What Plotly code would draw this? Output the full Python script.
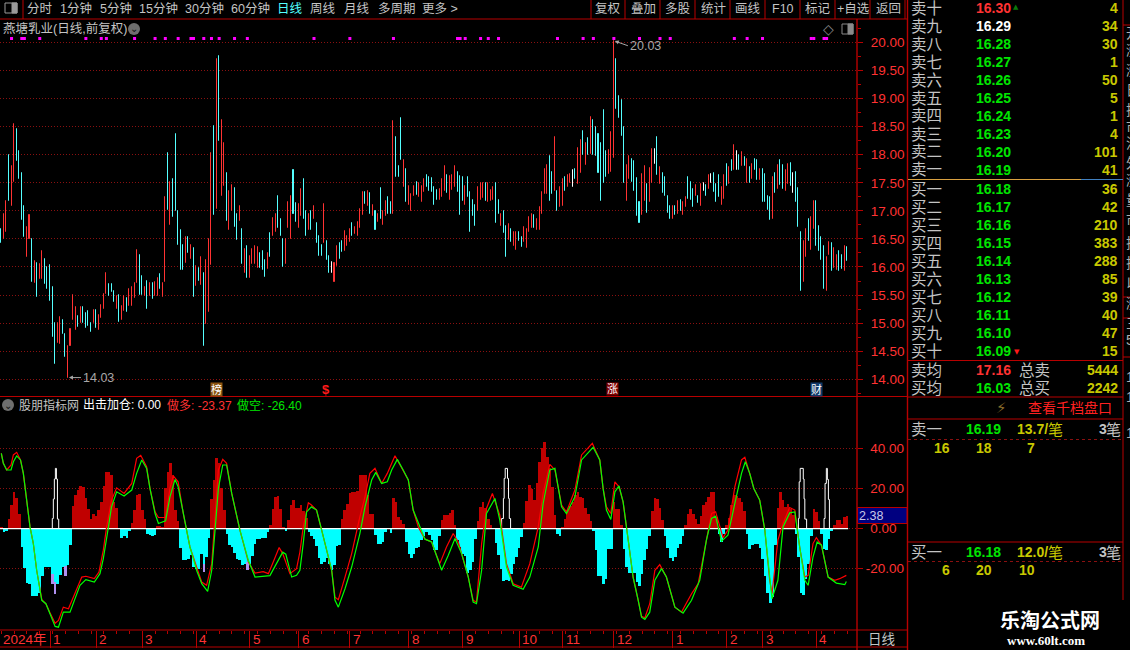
import plotly.graph_objects as go

W = 1130
H = 650
RED_TXT = '#ff3232'
BORDER = '#b80000'
GRID = '#8a1010'
GREY = '#c4c4c4'
GREEN = '#00e600'
YELLOW = '#c8c800'
CYAN = '#54ffff'
FONT = 'Liberation Sans, Noto Sans CJK SC'

# daily price bars, one entry per bar. c = down, r = up, w = flat
candle_dir = list(
    'crrcrrcccc' 'rrcrcrrccc' 'ccrrccrrrr' 'crccccrcrr' 'rrcccrcrrc'
    'rrrrccrcrc' 'rrcrrcrccc' 'ccrcrcrcrc' 'rrrcrcrrcr' 'rccrcrcrrr'
    'rcccrcrrcc' 'crrrccrrcc' 'rcrcccrccw' 'rrccrrrcrr' 'rrcrcrcrcr'
    'rccrcccrcr' 'rrcrrrc' 'c'
    'cccrrrcrrr' 'cccrccccrr' 'rcrrrccrcc' 'rcrrccrrrr' 'crrrrrccrc'
    'rrcrrwcrrc' 'rcrccccccr' 'rrccccrrcc' 'ccrrcrrwcr' 'ccccrcrcrr'
    'cccrcrwcrw' 'cccrrcrcrw' 'crcrcrccrc' 'cccrcrccrr' 'cwcccrrcrr'
    'ccccrrcrrc' 'crc'
)
candle_high = [
    16.68, 16.95, 17.17, 17.99, 17.79, 18.55, 18.45, 18.06, 17.67, 17.08,
    16.71, 16.92, 16.50, 16.11, 16.07, 16.06, 16.29, 16.14, 16.00, 16.03,
    15.65, 15.00, 15.00, 15.11, 15.05, 14.80, 14.60, 14.90, 15.50, 15.28,
    15.12, 15.28, 15.29, 15.18, 15.21, 15.00, 15.24, 15.24, 15.15, 15.33,
    15.52, 15.90, 15.70, 15.70, 15.58, 15.49, 15.50, 15.30, 15.49, 15.45,
    15.60, 15.64, 15.71, 16.30, 16.21, 15.84, 15.64, 15.75, 15.71, 15.72,
    15.74, 15.81, 15.87, 15.72, 17.24, 18.03, 17.52, 17.56, 18.37, 17.00,
    16.66, 16.40, 16.54, 16.54, 16.40, 16.34, 16.02, 15.98, 16.17, 15.90,
    16.13, 16.50, 18.03, 18.52, 19.70, 19.76, 18.61, 18.20, 17.67, 17.36,
    17.46, 17.40, 16.95, 17.08, 16.68, 16.32, 16.37, 16.20, 16.32, 16.38,
    16.35, 16.25, 16.28, 16.13, 16.25, 16.60, 16.88, 16.95, 17.27, 16.85,
    16.49, 16.50, 17.15, 17.27, 17.72, 17.14, 17.12, 17.39, 17.56, 17.00,
    16.95, 17.00, 17.08, 16.78, 16.56, 16.40, 17.13, 16.46, 16.19, 16.08,
    16.07, 16.38, 16.43, 16.46, 16.64, 16.55, 16.68, 16.79, 16.71, 16.80,
    17.03, 17.33, 17.33, 17.35, 17.32, 17.10, 17.00, 16.95, 17.41, 17.00,
    17.18, 17.24, 17.15, 18.60, 18.31, 17.80, 18.66, 17.90, 17.75, 17.45,
    17.30, 17.45, 17.52, 17.50, 17.45, 17.57, 17.63, 17.60,
    17.59, 17.43, 17.38, 17.39, 17.56, 17.79, 17.63, 17.62, 17.63, 17.79,
    17.70, 17.62, 17.60, 17.45, 17.60, 17.33, 17.20, 17.10, 17.42, 17.50,
    17.50, 17.50, 17.50, 17.38, 17.43, 17.50, 17.20, 16.95, 17.00, 16.73,
    16.76, 16.68, 16.62, 16.62, 16.62, 16.53, 16.72, 16.67, 16.89, 16.95,
    16.93, 16.85, 17.07, 17.33, 17.75, 17.81, 17.97, 17.70, 18.31, 17.36,
    17.42, 17.57, 17.61, 17.63, 17.66, 17.72, 17.75, 18.12, 18.27, 18.42,
    18.20, 18.29, 18.68, 18.61, 18.50, 18.37, 18.20, 18.79, 18.06, 18.09,
    18.40, 20.03, 19.71, 19.04, 18.97, 18.49, 17.81, 17.97, 17.92, 17.88,
    17.58, 17.16, 17.66, 17.80, 17.48, 17.76, 18.11, 18.11, 18.31, 17.78,
    17.68, 17.60, 17.27, 17.08, 17.08, 17.08, 17.18, 17.20, 17.16, 17.25,
    17.60, 17.51, 17.39, 17.46, 17.27, 17.48, 17.49, 17.46, 17.63, 17.66,
    17.68, 17.48, 17.63, 17.42, 17.63, 17.83, 17.78, 17.90, 18.17, 18.06,
    17.99, 18.04, 17.96, 17.93, 17.78, 17.83, 17.92, 17.90, 17.74, 17.74,
    17.66, 17.26, 17.25, 17.60, 17.68, 17.81, 17.91, 17.81, 17.72, 17.84,
    17.86, 17.67, 17.70, 17.40, 16.62, 16.47, 16.67, 16.86, 16.89, 17.18,
    17.17, 16.73, 16.54, 16.37, 16.17, 16.45, 16.42, 16.33, 16.22, 16.29,
    16.22, 16.37, 16.36,
]
candle_low = [
    16.43, 16.50, 16.63, 17.17, 17.08, 17.51, 17.88, 17.56, 16.83, 16.53,
    16.17, 16.50, 15.74, 15.72, 15.46, 15.78, 15.79, 15.69, 15.60, 15.40,
    14.76, 14.27, 14.64, 14.62, 14.80, 14.40, 14.03, 14.59, 15.05, 14.88,
    14.93, 15.00, 15.00, 14.92, 14.95, 14.85, 15.00, 14.91, 14.87, 15.10,
    15.25, 15.52, 15.48, 15.55, 15.37, 15.25, 15.02, 15.05, 15.21, 15.20,
    15.30, 15.30, 15.45, 15.71, 15.50, 15.50, 15.49, 15.25, 15.48, 15.43,
    15.49, 15.48, 15.60, 15.46, 15.74, 17.02, 16.74, 16.89, 17.00, 16.40,
    15.94, 15.95, 16.07, 16.25, 16.15, 15.46, 15.67, 15.75, 15.68, 14.60,
    14.99, 15.20, 16.03, 16.93, 17.04, 18.24, 17.26, 17.45, 16.82, 16.66,
    17.00, 16.72, 16.48, 16.82, 16.05, 15.90, 15.80, 15.80, 16.05, 16.05,
    15.98, 15.98, 15.95, 15.83, 15.97, 16.18, 16.55, 16.62, 16.70, 16.55,
    16.00, 16.05, 16.70, 16.50, 16.95, 16.80, 16.70, 16.90, 16.85, 16.55,
    16.65, 16.65, 16.85, 16.43, 16.20, 16.20, 16.43, 16.13, 15.90, 15.90,
    15.73, 16.01, 16.14, 16.26, 16.28, 16.37, 16.45, 16.55, 16.58, 16.55,
    16.70, 16.93, 17.12, 17.09, 16.95, 16.90, 16.65, 16.80, 16.85, 16.75,
    16.90, 16.95, 16.95, 16.95, 17.60, 17.60, 17.90, 17.43, 17.15, 17.10,
    17.00, 17.27, 17.29, 17.25, 17.15, 17.33, 17.42, 17.35,
    17.33, 17.10, 17.20, 17.20, 17.24, 17.36, 17.32, 17.20, 17.38, 17.42,
    17.33, 16.92, 17.18, 17.10, 17.25, 16.63, 16.90, 16.73, 17.00, 17.20,
    17.22, 17.17, 17.15, 17.18, 17.20, 16.78, 16.95, 16.73, 16.60, 16.17,
    16.48, 16.44, 16.37, 16.30, 16.46, 16.35, 16.44, 16.33, 16.63, 16.70,
    16.70, 16.65, 16.66, 16.94, 17.30, 17.30, 17.18, 17.30, 17.36, 17.00,
    17.07, 17.08, 17.36, 17.43, 17.50, 17.42, 17.57, 17.48, 17.67, 18.00,
    17.81, 17.99, 18.02, 17.99, 17.97, 17.67, 17.17, 17.49, 17.60, 17.66,
    17.70, 17.95, 18.81, 18.65, 18.33, 17.49, 17.18, 17.57, 17.51, 17.36,
    16.90, 16.78, 16.92, 17.18, 16.96, 17.15, 17.49, 17.84, 17.63, 17.48,
    17.32, 17.27, 16.96, 16.85, 16.86, 16.93, 16.94, 17.00, 16.93, 17.06,
    17.21, 17.20, 17.06, 17.27, 17.14, 17.09, 17.36, 17.27, 17.39, 17.50,
    17.33, 17.15, 17.24, 17.11, 17.21, 17.45, 17.48, 17.71, 17.72, 17.72,
    17.72, 17.79, 17.80, 17.49, 17.49, 17.57, 17.72, 17.55, 17.55, 17.15,
    17.16, 17.02, 16.83, 16.86, 17.32, 17.39, 17.46, 17.39, 17.36, 17.48,
    17.45, 17.32, 17.15, 16.71, 15.58, 15.74, 16.17, 16.46, 16.31, 16.67,
    16.38, 16.28, 16.13, 15.60, 15.57, 16.22, 15.92, 15.98, 15.94, 15.92,
    15.97, 15.92, 16.10,
]

# bars that carry the small magenta signal above the chart
signal_bars = [4, 8, 9, 15, 33, 39, 41, 52, 60, 64, 69, 74, 75, 79, 82, 85, 91, 96, 122, 136, 153,
               178, 179, 181, 187, 190, 194, 217, 227, 231, 239, 249, 257, 261, 286, 291, 297,
               316, 317, 321, 322]
signal_level = 20.07

price_ticks = [14, 14.5, 15, 15.5, 16, 16.5, 17, 17.5, 18, 18.5, 19, 19.5, 20]

# indicator histogram, one value per bar
hist_values = [
    0.7, -1.7, -1, 5, 11.7, 18.2, 15, 7.2, -9.2, -19.7,
    -27.2, -27.5, -33.7, -33.7, -33.7, -32, -23.7, -19.3, -19.3, -19.3,
    -22.5, -26.7, -27.5, -23.3, -19.3, -18.5, -18, -8.3, 11, 16.7,
    19.2, 21.2, 20.8, 15, 9.5, 4.7, 7.2, 6.2, 9.2, 13.3,
    21.2, 28.2, 28.2, 26.7, 13.3, 10.2, 0, -4.7, -3.8, -4.5,
    -1.2, 2.7, 9.2, 16.7, 17.2, 9.2, 4.7, -2.8, -3.3, -3.8,
    -3.3, 1.2, 1.2, 0.7, 20, 28.3, 32.7, 26.7, 9.2, 3.8,
    -9.7, -15.8, -15.5, -15, -13.3, -19.2, -20, -20, -12.8, -17.5,
    -14.2, -4.5, 14.5, 24, 35, 32.5, 20, 9.2, -2.8, -8.3,
    -9.2, -12.2, -15, -15.5, -18.3, -17.8, -16.7, -17.8, -13.8, -7.5,
    -5.2, -5.2, -4.8, -4.5, -1.7, 1.7, 9.5, 15.8, 16.2, 9.5,
    0.7, -1.2, 4.5, 11.7, 14.2, 10.2, 10.2, 11.7, 8.8, 5.5,
    -1.7, -3.7, -5, -8.7, -14.7, -17.5, -16.7, -14.5, -17.8, -20.8,
    -18, -8.8, -8, 5, 9.2, 12.2, 17.5, 18.3, 18.3, 18.7,
    26.7, 26.7, 26.7, 16.7, 7.5, 7.5, -3, -7.8, -7.8, -6.7,
    -1.7, 0, -2.2, 15.3, 13.3, 5.8, 4.5, 2.5, -6.8, -12.8,
    -14.8, -12.5, -9.5, -9.2, -5.8, -3.5, -1.5, -3, -5.8, -10.8,
    -10.5, -3.5, 4.2, 6.7, 7, 7.8, 9.2, 2, -5.8, -9.2,
    -12.5, -13.8, -22.2, -20.8, -16.7, -5, 3.8, 10.5, 13.2, 10,
    5, 1.7, 0, -7.2, -13.2, -20, -26.2, -25.5, -26.2, -22.5,
    -17.5, -14.2, -9.5, -4.2, 2.8, 13.7, 21.7, 19.5, 14.2, 22.5,
    33, 40, 43.3, 35.8, 30, 20.5, 7, -2.5, -3.8, 0.7,
    4.8, 9.2, 11.2, 13.3, 16.7, 18, 15.8, 15, 10.2, 7.2,
    4, -1, -10.8, -23.7, -23.7, -27.8, -25, -10.2, -10.2, 13.3,
    9.7, 9.7, 1.7, -10, -19.2, -22.2, -22.2, -22.2, -26.7, -28.8,
    -22.5, -15.8, -10.3, -3.8, 8.7, 15.2, 14.7, 10, 4.2, -3.5,
    -9.5, -14.7, -16.2, -14.2, -9.7, -7.5, -3.5, 1.7, 7.5, 9.5,
    7.2, 5, 2.2, 6.2, 11.7, 13.3, 15.8, 18.2, 18.2, 5.8,
    -2.5, -6.8, -2.5, 1.7, 5.3, 11.7, 16.7, 16, 15.3, 13.3,
    8.7, -2.5, -10.3, -8.3, -7.5, -7.8, -9.5, -15, -23.7, -32,
    -37.2, -34.2, -8.3, 10, 18.2, 14, 10.5, 12.2, 9.8, 6.7,
    -2.5, -14.2, -32, -33.3, -25, -17.5, -3.8, 9.7, 8.3, 3.7,
    -2.5, -10, -10.8, -5, -1.2, 1.7, 4.2, 4.2, 2.5, 5.8,
    6.2,
]
purple_bars = [20, 21, 25, 79, 96]
purple_top = [-22.5, -26.7, -18.5, -17.5, -16.7]
purple_bottom = [-27.5, -32.8, -23.7, -21.8, -20.8]

# white hollow spikes
spike_x = [19.9, 19.9, 20.3, 20.7, 21.1, 21.5, 21.9, 22.4, None,
           195.2, 195.2, 195.9, 196.2, 196.6, 197.5, 197.9, 198.2, 198.7, None,
           311, 311, 311.3, 311.7, 312.9, 313.2, 313.5, 314.2, None,
           321, 321, 321.4, 321.9, 322.3, 322.7, 323.1]
spike_y = [0, 5, 14.7, 24.7, 30, 24.7, 4.7, 0, None,
           0, 5, 15, 25, 30, 25, 15, 5, 0, None,
           0, 5, 23.3, 30, 24.7, 14.8, 4.7, 0, None,
           0, 5, 22.5, 30, 24.5, 14.5, 0]

# 做空 line
short_x = [0, 0.8, 2.1, 3.8, 4.7, 6, 7.5, 8.6, 9.9, 11.2, 12.5, 13.8, 15.8, 17.4, 19, 21, 22.3, 24.2, 26.8, 28.8,
           30.7, 33, 36.3, 38.5, 39.8, 41.8, 43, 45, 47.9, 50.9, 52.8, 54.8, 56.7, 58, 60, 61.3, 64.1, 65.8, 67.8, 69,
           71, 73.6, 76.2, 78.2, 80.5, 82.1, 83.4, 84.7, 86.4, 87.9, 89.9, 93.1, 96.4, 99, 104.8, 107.4, 109.8, 111, 113.3, 115.2,
           116.5, 117.8, 119.1, 121, 123, 125, 126.9, 128.9, 130.2, 131.5, 134.1, 136.7, 139.9, 141.9, 144.5, 146.1, 148.4, 150.6, 152.3, 154.5,
           156.8, 158.8, 160.7, 162.7, 165.3, 167.9, 169.8, 171.8, 174.4, 177, 179.6, 182.2, 184.1, 185.4, 187.4, 189.3, 192.6, 194.5, 197.1, 199.7,
           203.6, 206.2, 209.5, 211.4, 214, 216, 218.6, 220.5, 223.8, 226.4, 230.9, 233.5, 234.8, 236.1, 237.8, 239.4, 241, 242.6, 244.6, 246.5,
           248.5, 249.8, 251.1, 253, 255, 257.6, 259.5, 262.8, 266, 269.3, 272.5, 275.1, 277.1, 278.7, 281, 283.5, 286.2, 288.8, 290.3, 292,
           293.6, 295.9, 297.9, 299.8, 300.7, 303, 305, 307.6, 309.6, 311.5, 313.5, 314.8, 316.7, 318.3, 320, 322.6, 325.8, 329.1, 329.7]
short_y = [37.5, 32.5, 29.2, 29.2, 33.3, 36.2, 34.2, 27.5, 14.2, 0.8, -7.5, -20.8, -35.8, -37.5, -42.5, -48.8, -49.2, -41.7, -41.7, -35,
           -28.3, -25.5, -26.7, -22.5, -15, 0.8, 10.8, 18.3, 16.2, 19.2, 27.5, 34.2, 30, 20, 7.5, 2.5, 3.8, 15.8, 24.5, 20.8,
           7.5, -9.2, -20.8, -27.5, -31.3, -20.8, -0.8, 20, 31.7, 31.7, 17.5, -0.8, -15.8, -24.2, -23.5, -17.5, -11.8, -12.8, -24.2, -23.3,
           -20.8, -7.5, 8.3, 10.8, 9.2, -0.8, -10.8, -20.8, -35.8, -39.2, -30, -19.2, -2.5, 10.8, 24.2, 28, 22.5, 23.3, 29.2, 34.5,
           29.2, 24.2, 9.2, 2.5, -5.3, -6.7, -13.3, -20.8, -13.3, -5, -12.5, -24.2, -36.7, -37.5, -20.8, 7.5, 15, 4.2, -19.2, -28.3,
           -30.3, -24.2, -9.2, 12.5, 29.2, 30, 10.8, 7.5, 15.8, 34.2, 40.5, 34.2, 20, 9.2, 4.5, 18.3, 21.3, 13.3, -5.8, -24.2,
           -35.8, -44.2, -45.3, -41.7, -25.8, -20, -24.2, -39.2, -42.2, -35.8, -25.8, -5.8, 5, 6.2, -6.3, -3.3, 12.5, 27.5, 33.3, 27.5,
           20, 14.2, -0.8, -24.2, -35, -25.8, 0.8, 7.8, 8.3, -9.2, -25.8, -28.3, -14.2, -6.7, -8.3, -24.2, -27.2, -28, -26.4]

# 做多 line
long_x = [0, 0.8, 2.1, 3.8, 4.7, 6, 7.5, 8.6, 9.9, 11.2, 12.5, 13.8, 15.8, 17.4, 19, 21, 22.3, 24.2, 26.2, 28.8,
          31.4, 33, 36.3, 38.1, 39.8, 41.1, 43, 45, 47.9, 50.9, 52.8, 54.4, 56.7, 58, 60, 61.3, 64.1, 65.8, 67.1, 69,
          71, 73.6, 76.2, 78.2, 80.1, 82.1, 83.4, 84.7, 86.4, 87.9, 89.9, 93.1, 96.4, 99, 102.2, 104.2, 106.1, 108.4, 109.8, 112.6,
          115.2, 116.5, 117.8, 119.8, 121, 123, 125, 126.9, 128.9, 130.2, 131.5, 134.1, 136.7, 139.9, 141.9, 143.8, 145.8, 148.4, 150.6, 153.6,
          156.8, 158.8, 160.7, 162.7, 165.3, 167.9, 169.8, 171.1, 173.7, 176.3, 178.3, 182.2, 184.1, 185.4, 187.4, 189.3, 191.6, 194.5, 197.1, 199.7,
          202.9, 206.2, 209.5, 211.4, 214, 216, 218.6, 220.5, 223.8, 226.4, 230.6, 233.5, 234.8, 236.1, 237.8, 239.4, 241, 242.6, 244.6, 246.5,
          248.5, 249.8, 251.1, 253, 255, 256.9, 259.5, 262.8, 265.4, 269.3, 271.9, 274.5, 277.1, 278.7, 281.6, 283.5, 286.2, 288.8, 290.1, 292,
          293.6, 295.9, 297.9, 299.8, 300.7, 303, 305, 307.6, 309.6, 311.5, 313.5, 314.8, 316.7, 318, 320, 322.6, 325.2, 327.1, 329.7]
long_y = [37.5, 32.5, 29.2, 31.7, 36.7, 38, 34.2, 27.5, 14.2, 0.8, -7.5, -20.8, -35.5, -37.5, -42, -47.2, -45.8, -39.2, -40, -32.5,
          -24.2, -23.8, -25, -21.7, -10.8, 0.8, 14.2, 20.3, 17.5, 22.5, 35, 36.5, 30.8, 20, 8.3, 5.5, 5.5, 20, 26.3, 23.3,
          7.5, -9.2, -19.2, -26.7, -28.3, -17.5, 5.8, 29.2, 34.5, 32.5, 17.5, -0.8, -16.7, -22.2, -21.5, -22.5, -16.7, -9.5, -12.5, -22.5,
          -20, -11.7, 0.8, 12.8, 11.7, 9.2, -0.8, -10.8, -20.8, -34.2, -35.5, -24.2, -12.5, 5.8, 15.8, 27.5, 30, 22.5, 27.5, 36.3,
          29.2, 24.2, 9.2, 0.8, -5.3, -6.7, -13.3, -17.5, -9.2, -2.5, -6.7, -24.2, -35.8, -36.7, -7.5, 10, 17.5, 6.7, -17.5, -27.5,
          -29.2, -17.5, 0.8, 17.5, 32, 29.2, 11.7, 8.3, 19.2, 36.7, 42.5, 34.2, 20, 10.8, 7.5, 23.3, 20.8, 13.3, -5.8, -24.2,
          -35.8, -43.8, -44.5, -37.5, -20.8, -18, -24.2, -39.2, -41.7, -32.5, -27.5, -9.2, 7.5, 8.3, -4.5, -0.8, 20.8, 34.2, 35.5, 27.5,
          20, 14.2, -0.8, -25.8, -32.5, -5.8, 2.5, 10.5, 9.2, -9.2, -24.2, -23.3, -7.5, -4.5, -8.3, -24.2, -25.8, -25, -23.37]

indicator_ticks = [-20, 0, 20, 40]
indicator_tick_text = ['-20.00', '\u20040.00', '\u200420.00', '\u200440.00']

month_bars = [19, 37, 55, 76, 97, 116, 136, 159, 180, 202, 219, 239, 262, 283, 297, 318]
month_names = ['1', '2', '3', '4', '5', '6', '7', '8', '9', '10', '11', '12', '1', '2', '3', '4']

# order book
ask_names = ['卖十', '卖九', '卖八', '卖七', '卖六', '卖五', '卖四', '卖三', '卖二', '卖一']
ask_prices = ['16.30', '16.29', '16.28', '16.27', '16.26', '16.25', '16.24', '16.23', '16.20', '16.19']
ask_sizes = [4, 34, 30, 1, 50, 5, 1, 4, 101, 41]
bid_names = ['买一', '买二', '买三', '买四', '买五', '买六', '买七', '买八', '买九', '买十']
bid_prices = ['16.18', '16.17', '16.16', '16.15', '16.14', '16.13', '16.12', '16.11', '16.10', '16.09']
bid_sizes = [36, 42, 210, 383, 288, 85, 39, 40, 47, 15]

toolbar_left = [('分时', 40), ('1分钟', 76), ('5分钟', 116), ('15分钟', 158), ('30分钟', 204), ('60分钟', 250),
                ('日线', 290), ('周线', 323), ('月线', 357), ('多周期', 397), ('更多 >', 440)]
toolbar_right = [('复权', 608), ('叠加', 643), ('多股', 678), ('统计', 713), ('画线', 748), ('F10', 783),
                 ('标记', 818), ('+自选', 853), ('返回', 888)]
toolbar_seps = [591, 625, 660, 695, 730, 765, 800, 835, 870, 905]

side_chars = [('开', 33), ('涨', 50), ('涨', 70), ('日', 90), ('换', 110), ('市', 127), ('流', 143), ('外', 163),
              ('涨', 180), ('量', 200), ('市', 220), ('换', 243), ('换', 263), ('以', 283), ('涨', 303),
              ('三', 323), ('5', 340), ('1', 377), ('1', 397), ('1', 433)]

n = len(hist_values)
bars = list(range(n))
annotations = []
shapes = []


def fx(px):
    return px / W


def fy(px):
    return 1 - px / H


def label(x, y, text, color=GREY, size=13, anchor='left', bold=False, family=FONT, bg=None):
    annotations.append(dict(x=fx(x), y=fy(y), xref='paper', yref='paper', text=text, showarrow=False,
                            xanchor=anchor, yanchor='middle', bgcolor=bg, borderpad=0,
                            font=dict(color=color, size=size, family=family, weight='bold' if bold else 'normal')))


def line(x0, y0, x1, y1, color=BORDER, width=1, dash='solid'):
    shapes.append(dict(type='line', xref='paper', yref='paper', x0=fx(x0), y0=fy(y0), x1=fx(x1), y1=fy(y1),
                       line=dict(color=color, width=width, dash=dash)))


def rect(x0, y0, x1, y1, fill='rgba(0,0,0,0)', color=None, width=1):
    shapes.append(dict(type='rect', xref='paper', yref='paper', x0=fx(x0), y0=fy(y0), x1=fx(x1), y1=fy(y1),
                       fillcolor=fill, line=dict(color=color or fill, width=width)))


fig = go.Figure()

# price bars, drawn as plain high-low sticks since the bodies are no wider than the wicks
# a hairline bar with a 1px outline stays 1px wide, a thin fill alone gets widened to 2px
for key, color in [('r', RED_TXT), ('c', CYAN), ('w', '#ffffff')]:
    idx = [i for i in range(len(candle_dir)) if candle_dir[i] == key]
    fig.add_trace(go.Bar(x=idx, y=[candle_high[i] - candle_low[i] for i in idx], base=[candle_low[i] for i in idx],
                         width=0.01, marker=dict(color=color, line=dict(width=1, color=color)),
                         xaxis='x', yaxis='y'))
fig.add_trace(go.Scatter(x=signal_bars, y=[signal_level] * len(signal_bars), mode='markers',
                         marker=dict(symbol='square', size=3, color='#ff00ff'), xaxis='x', yaxis='y'))

# indicator pane
fig.add_trace(go.Bar(x=bars, y=hist_values, width=1,
                     marker=dict(color=['#c00000' if v > 0 else '#00ffff' for v in hist_values], line=dict(width=0)),
                     xaxis='x2', yaxis='y2'))
fig.add_trace(go.Bar(x=purple_bars, y=[purple_bottom[i] - purple_top[i] for i in range(len(purple_bars))],
                     base=purple_top, width=1, marker=dict(color='#b090f0', line=dict(width=0)),
                     xaxis='x2', yaxis='y2'))
fig.add_trace(go.Scatter(x=[-0.5, n - 0.6], y=[0, 0], mode='lines', line=dict(color='#ffffff', width=1.3),
                         xaxis='x2', yaxis='y2'))
fig.add_trace(go.Scatter(x=spike_x, y=spike_y, mode='lines', line=dict(color='#ffffff', width=1, shape='hv'),
                         xaxis='x2', yaxis='y2'))
fig.add_trace(go.Scatter(x=long_x, y=long_y, mode='lines', line=dict(color='#ff0000', width=1.2),
                         xaxis='x2', yaxis='y2'))
fig.add_trace(go.Scatter(x=short_x, y=short_y, mode='lines', line=dict(color='#00ff00', width=1.2),
                         xaxis='x2', yaxis='y2'))

# toolbar
line(0, 19, 907, 19)
line(23, 0, 23, 19)
rect(5, 3, 17, 13, color='#9a9a9a')
rect(12, 3, 17, 13, fill='#9a9a9a')
for text, x in toolbar_left:
    label(x, 9, text, color=CYAN if text == '日线' else GREY, size=12.5, anchor='center')
for text, x in toolbar_right:
    label(x, 9, text, size=12.5, anchor='center')
for x in toolbar_seps:
    line(x, 0, x, 19)

# pane headers
label(2, 29, '燕塘乳业(日线,前复权)', size=12.5)
shapes.append(dict(type='circle', xref='paper', yref='paper', x0=fx(128), y0=fy(35), x1=fx(140), y1=fy(23),
                   fillcolor='#6e6e6e', line=dict(width=0)))
label(134, 29, '⌄', color='#111111', size=10, anchor='center')
label(828, 29, '◇', color='#8a8a8a', size=14, anchor='center', family='DejaVu Sans')
rect(842, 24, 853, 34, color='#8a8a8a')
rect(848, 24, 853, 34, fill='#8a8a8a')

shapes.append(dict(type='circle', xref='paper', yref='paper', x0=fx(2), y0=fy(411), x1=fx(14), y1=fy(399),
                   fillcolor='#6e6e6e', line=dict(width=0)))
label(8, 405, '⌄', color='#111111', size=10, anchor='center')
label(18, 405, '股朋指标网', size=12)
label(82, 405, '出击加仓: 0.00', color='#ffffff', size=12)
label(166, 405, '做多: -23.37', color=RED_TXT, size=12)
label(236, 405, '做空: -26.40', color=GREEN, size=12)

# high / low notes
annotations.append(dict(x=26, y=14.03, xref='x', yref='y', text='14.03', ax=13, ay=0, xanchor='left',
                        arrowcolor='#a8a8a8', arrowwidth=1, arrowhead=2, arrowsize=0.8, standoff=1,
                        font=dict(color='#a8a8a8', size=12.5, family=FONT)))
annotations.append(dict(x=239, y=20.03, xref='x', yref='y', text='20.03', ax=14, ay=5, xanchor='left',
                        arrowcolor='#a8a8a8', arrowwidth=1, arrowhead=2, arrowsize=0.8, standoff=1,
                        font=dict(color='#a8a8a8', size=12.5, family=FONT)))

# event tags
label(216, 389, '榜', color='#ffffff', size=11, anchor='center', bg='#8a5410')
label(326, 389, '$', color='#ff1a1a', size=13, anchor='center', bold=True)
label(612, 389, '涨', color='#ffffff', size=11, anchor='center', bg='#800000')
label(816, 389, '财', color='#ffffff', size=11, anchor='center', bg='#103a6a')

# frame
line(0, 396.5, 907, 396.5)
line(0, 630, 907, 630)
line(0, 647, 907, 647)
line(857, 19, 857, 650, width=1.4)
line(907.5, 0, 907.5, 650, width=1.4)
line(1123, 0, 1123, 600)
rect(857.5, 507.5, 907, 523.5, fill='#000080', color=BORDER)
label(858, 515.5, '2.38', color='#c8c8e8', size=12.5)
label(882, 639, '日线', size=13.5, anchor='center')

# time strip
label(2, 639, '2024年', color=RED_TXT, size=13.5)
for bar, name in zip(month_bars, month_names):
    annotations.append(dict(x=bar, y=fy(639), xref='x2', yref='paper', text=name, showarrow=False, xanchor='left',
                            yanchor='middle', xshift=1, font=dict(color=RED_TXT, size=13.5, family=FONT)))

# order book
for i in range(10):
    y = 8 + i * 18
    label(910, y, ask_names[i], size=15.5)
    price_color = RED_TXT if i == 0 else '#ffffff' if i == 1 else GREEN
    label(975, y, ask_prices[i], color=price_color, size=14, bold=True)
    label(1119, y, str(ask_sizes[i]), color=YELLOW, size=14, anchor='right', bold=True)
    y = 189 + i * 18
    label(910, y, bid_names[i], size=15.5)
    label(975, y, bid_prices[i], color=GREEN, size=14, bold=True)
    label(1119, y, str(bid_sizes[i]), color=YELLOW, size=14, anchor='right', bold=True)
label(1016, 7, '▲', color='#0a7a0a', size=7, anchor='center', family='DejaVu Sans')
label(1017, 352, '▼', color='#ff1a1a', size=7, anchor='center', family='DejaVu Sans')

line(908, 179.5, 1081, 179.5, color='#d8a040')
line(1081, 179.5, 1123, 179.5, color='#4080c0')
line(908, 360.5, 1123, 360.5)
line(908, 397, 1123, 397)
line(908, 419, 1123, 419)
line(908, 542, 1123, 542)
line(908, 439.5, 1123, 439.5, color=GRID, dash='dot')
line(908, 561.5, 1123, 561.5, color=GRID, dash='dot')

label(910, 370, '卖均', size=15.5)
label(975, 370, '17.16', color=RED_TXT, size=14, bold=True)
label(1018, 370, '总卖', size=15.5)
label(1119, 370, '5444', color=YELLOW, size=14, anchor='right', bold=True)
label(910, 388, '买均', size=15.5)
label(975, 388, '16.03', color=GREEN, size=14, bold=True)
label(1018, 388, '总买', size=15.5)
label(1119, 388, '2242', color=YELLOW, size=14, anchor='right', bold=True)

label(1001, 408, '⚡', color='#8a6d2a', size=15, anchor='center', family='DejaVu Sans')
label(1027, 408, '查看千档盘口', color='#ff2020', size=14)

label(910, 429, '卖一', size=15.5)
label(965, 429, '16.19', color=GREEN, size=14, bold=True)
label(1016, 429, '13.7/', color=YELLOW, size=14, bold=True)
label(1047, 429, '笔', color=YELLOW, size=15)
label(1098, 429, '3', size=14, bold=True)
label(1105, 429, '笔', size=15)
label(942, 448, '16', color=YELLOW, size=14, anchor='center', bold=True)
label(984, 448, '18', color=YELLOW, size=14, anchor='center', bold=True)
label(1031, 448, '7', color=YELLOW, size=14, anchor='center', bold=True)

label(910, 552, '买一', size=15.5)
label(965, 552, '16.18', color=GREEN, size=14, bold=True)
label(1016, 552, '12.0/', color=YELLOW, size=14, bold=True)
label(1047, 552, '笔', color=YELLOW, size=15)
label(1098, 552, '3', size=14, bold=True)
label(1105, 552, '笔', size=15)
label(946, 570, '6', color=YELLOW, size=14, anchor='center', bold=True)
label(984, 570, '20', color=YELLOW, size=14, anchor='center', bold=True)
label(1027, 570, '10', color=YELLOW, size=14, anchor='center', bold=True)

label(1050, 619, '乐淘公式网', color='#ffffff', size=20, anchor='center', bold=True, family='Noto Sans CJK SC')
label(1046, 640, 'www.60lt.com', color='#ffffff', size=13, anchor='center', bold=True, family='Liberation Serif')

# cut off column at the page edge
for text, y in side_chars:
    label(1125, y, text, color='#b0b0b0', size=14)
for y in [25, 297, 318, 357]:
    line(1123, y, 1130, y)

fig.update_layout(
    width=W, height=H, autosize=False,
    margin=dict(l=0, r=0, t=0, b=0, pad=0),
    paper_bgcolor='#000000', plot_bgcolor='#000000',
    barmode='overlay', bargap=0, showlegend=False,
    annotations=annotations, shapes=shapes,
    xaxis=dict(domain=[0, 857 / W], range=[-0.507, 333.86], showgrid=False, zeroline=False,
               showticklabels=False, ticks='', anchor='y'),
    yaxis=dict(domain=[fy(396.5), fy(19)], range=[13.693, 20.417], side='right', anchor='x',
               tickmode='array', tickvals=price_ticks, ticktext=['%.2f' % p for p in price_ticks],
               tickfont=dict(color=RED_TXT, size=13.5, family=FONT),
               ticks='outside', ticklen=5, tickcolor=BORDER, ticklabelstandoff=5,
               minor=dict(dtick=0.25, tick0=14, ticks='outside', ticklen=3, tickcolor=BORDER, showgrid=False),
               showgrid=True, gridcolor=GRID, griddash='1px,2px', gridwidth=1, zeroline=False),
    xaxis2=dict(domain=[0, 857 / W], range=[-0.507, 333.86], showgrid=False, zeroline=False,
                showticklabels=False, anchor='y2', tickmode='array', tickvals=month_bars,
                ticks='outside', ticklen=17, tickcolor=BORDER,
                minor=dict(dtick=5, tick0=0, ticks='outside', ticklen=3, tickcolor=BORDER, showgrid=False)),
    yaxis2=dict(domain=[fy(630), fy(397)], range=[-50.6, 65.6], side='right', anchor='x2',
                tickmode='array', tickvals=indicator_ticks, ticktext=indicator_tick_text,
                tickfont=dict(color=RED_TXT, size=13.5, family=FONT),
                ticks='outside', ticklen=5, tickcolor=BORDER, ticklabelstandoff=0,
                showgrid=True, gridcolor=GRID, griddash='1px,2px', gridwidth=1, zeroline=False),
)

fig.write_html('out.html', config=dict(displayModeBar=False),
               post_script="document.body.style.margin='0';document.body.style.background='#000';document.body.style.overflow='hidden';")
